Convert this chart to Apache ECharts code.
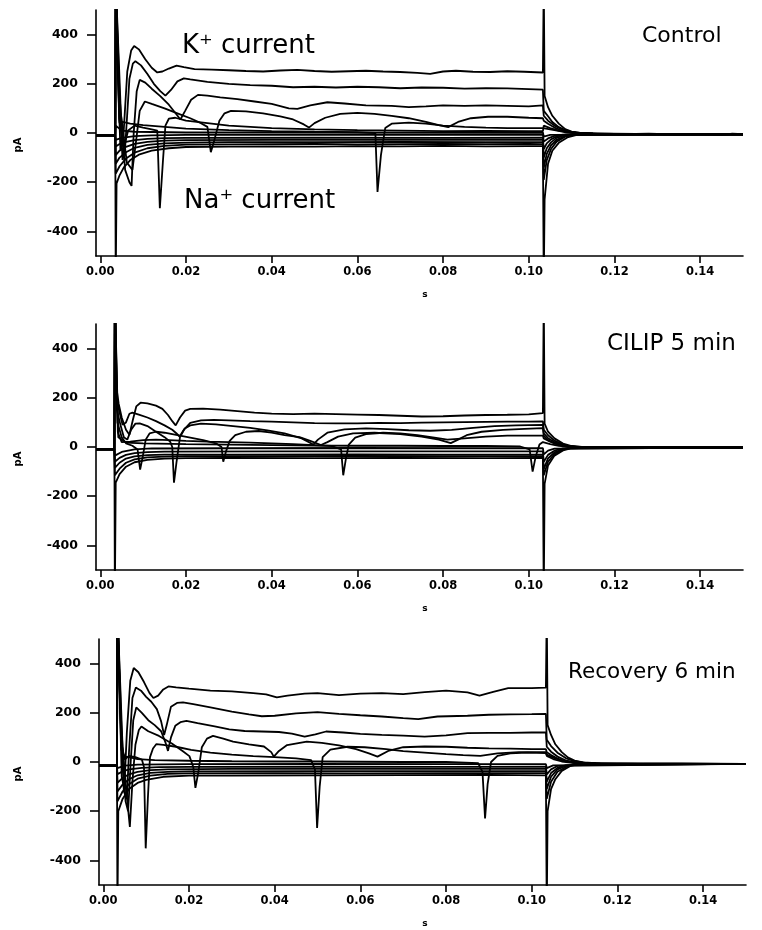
<!DOCTYPE html>
<html>
<head>
<meta charset="utf-8">
<script src="https://cdn.jsdelivr.net/npm/echarts@6/dist/echarts.min.js"></script>
<style>html,body{margin:0;padding:0;background:#fff}#chart{width:762px;height:930px}</style>
</head>
<body>
<div id="chart"></div>
<script>
// ---------------- data (time in s, current in pA) ----------------
const xTickValues = [0, 0.02, 0.04, 0.06, 0.08, 0.10, 0.12, 0.14];
const yTickValues = [-400, -200, 0, 200, 400];
const panelLabels = ['Control', 'CILIP 5 min', 'Recovery 6 min'];
const currentLabels = ['K\u207A current', 'Na\u207A current'];

const controlTraces = [
  [[-0.001,-10],[0.0035,-10],[0.0036,620],[0.0041,250],[0.0047,-70],[0.0053,-40],[0.0063,250],[0.0072,335],[0.0079,354],[0.009,340],[0.0105,300],[0.012,265],[0.0133,246],[0.0145,250],[0.016,262],[0.0178,274],[0.0195,268],[0.022,260],[0.026,258],[0.03,255],[0.034,252],[0.038,250],[0.042,254],[0.046,257],[0.05,252],[0.054,249],[0.058,251],[0.062,253],[0.066,250],[0.07,248],[0.074,244],[0.077,240],[0.08,250],[0.083,253],[0.087,249],[0.091,248],[0.095,251],[0.099,249],[0.1033,246],[0.1035,620],[0.1037,150],[0.1045,105],[0.1055,70],[0.107,38],[0.1085,16],[0.11,6],[0.112,0],[0.116,-4],[0.122,-5],[0.128,-3],[0.134,-6],[0.14,-4],[0.145,-8],[0.1475,-3],[0.15,-5]],
  [[-0.001,-10],[0.0035,-10],[0.0036,620],[0.0043,200],[0.0052,-110],[0.0058,-60],[0.0068,220],[0.0076,282],[0.0082,292],[0.0095,275],[0.011,240],[0.0125,200],[0.014,170],[0.0152,152],[0.0165,175],[0.018,210],[0.0195,222],[0.021,218],[0.025,208],[0.03,200],[0.035,195],[0.04,192],[0.045,186],[0.05,188],[0.055,185],[0.06,188],[0.065,186],[0.07,182],[0.075,185],[0.08,184],[0.085,180],[0.09,182],[0.095,181],[0.1,178],[0.1033,176],[0.1035,90],[0.1045,68],[0.1055,45],[0.107,24],[0.109,8],[0.111,1],[0.115,-3],[0.125,-4],[0.135,-5],[0.15,-5]],
  [[-0.001,-10],[0.0035,-10],[0.0036,620],[0.0045,150],[0.0058,-150],[0.0068,-200],[0.0073,-215],[0.0078,0],[0.0085,170],[0.0092,216],[0.0105,205],[0.012,180],[0.014,150],[0.016,115],[0.0178,75],[0.0187,55],[0.0198,90],[0.0212,135],[0.0228,155],[0.025,152],[0.028,145],[0.032,138],[0.036,128],[0.04,118],[0.044,100],[0.046,98],[0.049,112],[0.053,125],[0.057,120],[0.062,112],[0.068,110],[0.072,105],[0.076,108],[0.08,112],[0.085,110],[0.09,112],[0.095,110],[0.1,108],[0.1033,112],[0.1035,70],[0.1045,50],[0.106,30],[0.108,12],[0.11,3],[0.113,-2],[0.125,-4],[0.15,-5]],
  [[-0.001,-10],[0.0035,-10],[0.0036,620],[0.0048,80],[0.0062,-120],[0.0075,-150],[0.0083,-40],[0.0092,90],[0.0104,128],[0.012,118],[0.015,100],[0.018,80],[0.021,60],[0.0235,40],[0.025,25],[0.0258,-78],[0.0266,-30],[0.0278,50],[0.029,80],[0.0305,90],[0.034,88],[0.038,80],[0.042,68],[0.045,55],[0.0475,35],[0.0487,22],[0.05,40],[0.0525,62],[0.056,78],[0.06,82],[0.064,78],[0.068,70],[0.072,60],[0.076,45],[0.079,32],[0.0812,24],[0.0835,45],[0.0865,60],[0.0905,66],[0.095,66],[0.1,62],[0.1033,60],[0.1035,50],[0.1045,38],[0.106,22],[0.108,8],[0.111,0],[0.12,-4],[0.15,-5]],
  [[-0.001,-10],[0.0035,-10],[0.0036,620],[0.0044,60],[0.0055,-60],[0.0065,10],[0.008,30],[0.01,22],[0.012,15],[0.0133,10],[0.0139,-306],[0.0146,-120],[0.0152,30],[0.016,58],[0.0175,62],[0.02,50],[0.025,40],[0.03,30],[0.035,25],[0.04,20],[0.05,15],[0.06,12],[0.07,10],[0.08,8],[0.09,9],[0.1,8],[0.1033,8],[0.1035,30],[0.105,20],[0.107,10],[0.11,2],[0.115,-3],[0.15,-5]],
  [[-0.001,-10],[0.0035,-10],[0.0036,620],[0.0045,40],[0.0052,45],[0.007,38],[0.01,32],[0.015,25],[0.02,18],[0.03,12],[0.04,8],[0.05,5],[0.06,3],[0.0642,0],[0.0647,-240],[0.0655,-90],[0.0665,20],[0.068,38],[0.072,42],[0.076,38],[0.08,30],[0.085,25],[0.09,22],[0.095,20],[0.1,20],[0.1033,20],[0.1035,25],[0.106,12],[0.109,2],[0.115,-3],[0.15,-5]],
  [[-0.001,-10],[0.0035,-10],[0.0036,-620],[0.0038,-205],[0.0045,-172],[0.0055,-140],[0.007,-110],[0.009,-88],[0.012,-72],[0.016,-62],[0.02,-57],[0.03,-55],[0.04,-54],[0.05,-55],[0.06,-53],[0.07,-54],[0.08,-52],[0.09,-54],[0.1,-53],[0.1033,-53],[0.1035,-620],[0.1037,-270],[0.1045,-125],[0.1055,-72],[0.107,-40],[0.109,-18],[0.111,-9],[0.115,-5],[0.13,-6],[0.15,-5]],
  [[-0.001,-10],[0.0035,-10],[0.0036,-165],[0.0045,-135],[0.006,-104],[0.008,-80],[0.011,-62],[0.015,-52],[0.02,-47],[0.03,-46],[0.04,-45],[0.05,-44],[0.06,-46],[0.07,-45],[0.08,-44],[0.09,-45],[0.1,-44],[0.1033,-45],[0.1035,-190],[0.1042,-110],[0.1052,-65],[0.1065,-35],[0.1085,-15],[0.111,-7],[0.115,-5],[0.15,-5]],
  [[-0.001,-10],[0.0035,-10],[0.0036,-125],[0.0045,-100],[0.006,-78],[0.008,-60],[0.011,-48],[0.015,-42],[0.02,-39],[0.03,-37],[0.05,-37],[0.07,-36],[0.09,-37],[0.1033,-37],[0.1035,-140],[0.1042,-85],[0.1052,-50],[0.1065,-28],[0.1085,-12],[0.111,-6],[0.15,-5]],
  [[-0.001,-10],[0.0035,-10],[0.0036,-90],[0.0045,-72],[0.006,-56],[0.008,-44],[0.011,-36],[0.015,-31],[0.02,-29],[0.04,-28],[0.06,-28],[0.08,-27],[0.1033,-28],[0.1035,-100],[0.1042,-62],[0.1052,-38],[0.1065,-20],[0.1085,-9],[0.111,-5],[0.15,-5]],
  [[-0.001,-10],[0.0035,-10],[0.0036,-55],[0.0045,-45],[0.006,-36],[0.008,-29],[0.011,-24],[0.015,-21],[0.02,-20],[0.05,-19],[0.08,-20],[0.1033,-19],[0.1035,-65],[0.1042,-42],[0.1052,-26],[0.1065,-14],[0.1085,-7],[0.15,-5]],
  [[-0.001,-10],[0.0035,-10],[0.0036,-28],[0.005,-20],[0.008,-13],[0.012,-10],[0.02,-8],[0.05,-7],[0.08,-8],[0.1033,-7],[0.1035,-35],[0.1045,-22],[0.106,-12],[0.108,-7],[0.15,-5]],
  [[-0.001,-10],[0.0035,-10],[0.0036,30],[0.005,10],[0.008,5],[0.02,2],[0.05,2],[0.08,1],[0.1033,2],[0.1035,-15],[0.105,-8],[0.15,-5]]
];

const cilipTraces = [
  [[-0.001,-10],[0.0033,-10],[0.0034,620],[0.0037,250],[0.0043,175],[0.005,120],[0.006,70],[0.0068,50],[0.0076,110],[0.0084,165],[0.0094,180],[0.011,177],[0.013,168],[0.0145,155],[0.0158,130],[0.0168,105],[0.0176,88],[0.0186,120],[0.0198,148],[0.021,155],[0.024,156],[0.028,152],[0.032,146],[0.036,140],[0.04,136],[0.045,134],[0.05,136],[0.055,134],[0.06,132],[0.065,130],[0.07,127],[0.075,124],[0.08,125],[0.085,128],[0.09,130],[0.095,131],[0.1,133],[0.1033,138],[0.1035,620],[0.1037,95],[0.1045,62],[0.106,35],[0.108,14],[0.11,4],[0.113,-1],[0.12,-2],[0.13,-1],[0.14,-2],[0.15,-2]],
  [[-0.001,-10],[0.0033,-10],[0.0034,620],[0.0038,200],[0.0045,140],[0.0052,90],[0.006,100],[0.0068,135],[0.0075,140],[0.009,132],[0.011,120],[0.013,105],[0.015,88],[0.0168,70],[0.0178,55],[0.0185,42],[0.0195,70],[0.021,98],[0.0235,108],[0.0265,110],[0.03,108],[0.035,105],[0.04,103],[0.045,100],[0.05,97],[0.055,96],[0.06,96],[0.065,98],[0.07,97],[0.075,99],[0.08,100],[0.085,101],[0.09,102],[0.095,103],[0.1,103],[0.1033,104],[0.1035,70],[0.1045,48],[0.106,26],[0.108,10],[0.11,2],[0.113,-1],[0.15,-2]],
  [[-0.001,-10],[0.0033,-10],[0.0034,620],[0.0039,150],[0.0047,90],[0.0055,40],[0.0063,30],[0.0072,70],[0.0082,95],[0.0092,96],[0.011,85],[0.013,62],[0.015,40],[0.0163,22],[0.0168,0],[0.0172,-145],[0.0178,-60],[0.0186,40],[0.0197,75],[0.021,88],[0.0235,95],[0.027,92],[0.031,85],[0.035,78],[0.039,68],[0.043,55],[0.047,35],[0.0497,10],[0.0508,30],[0.053,58],[0.057,72],[0.062,76],[0.067,73],[0.072,68],[0.077,66],[0.082,70],[0.087,78],[0.092,85],[0.097,88],[0.1,89],[0.1033,90],[0.1035,55],[0.1045,36],[0.106,20],[0.108,8],[0.111,0],[0.115,-2],[0.15,-2]],
  [[-0.001,-10],[0.0033,-10],[0.0034,620],[0.004,100],[0.005,40],[0.006,15],[0.0075,5],[0.0087,-10],[0.0093,-92],[0.0099,-40],[0.0106,30],[0.0115,55],[0.013,62],[0.015,58],[0.018,48],[0.021,38],[0.024,28],[0.027,15],[0.0283,0],[0.0287,-60],[0.0293,-20],[0.0302,25],[0.0315,48],[0.034,62],[0.037,65],[0.04,58],[0.043,48],[0.0465,40],[0.049,25],[0.0515,8],[0.053,20],[0.0555,42],[0.059,55],[0.064,58],[0.07,52],[0.075,42],[0.079,30],[0.0818,16],[0.0835,30],[0.0855,48],[0.089,62],[0.094,70],[0.099,74],[0.1033,77],[0.1035,45],[0.1045,28],[0.106,14],[0.108,5],[0.11,0],[0.115,-2],[0.15,-2]],
  [[-0.001,-10],[0.0033,-10],[0.0034,620],[0.0041,60],[0.005,20],[0.007,22],[0.01,28],[0.013,30],[0.016,28],[0.02,25],[0.025,22],[0.03,20],[0.035,18],[0.04,15],[0.045,12],[0.05,8],[0.054,4],[0.0562,-10],[0.0567,-115],[0.0573,-50],[0.058,10],[0.0595,38],[0.062,52],[0.066,58],[0.07,55],[0.074,48],[0.078,38],[0.081,30],[0.085,35],[0.09,42],[0.095,46],[0.1,46],[0.1033,46],[0.1035,35],[0.105,22],[0.107,10],[0.109,3],[0.112,-1],[0.15,-2]],
  [[-0.001,-10],[0.0033,-10],[0.0034,620],[0.0042,40],[0.006,18],[0.01,15],[0.02,12],[0.03,10],[0.04,8],[0.05,6],[0.06,5],[0.07,5],[0.08,4],[0.09,4],[0.098,2],[0.1002,-10],[0.1009,-100],[0.1016,-40],[0.1025,10],[0.1033,20],[0.1035,22],[0.105,12],[0.107,5],[0.11,0],[0.15,-2]],
  [[-0.001,-10],[0.0033,-10],[0.0034,-620],[0.0036,-145],[0.0045,-110],[0.006,-80],[0.008,-62],[0.011,-52],[0.015,-47],[0.02,-45],[0.03,-44],[0.05,-45],[0.07,-44],[0.09,-45],[0.1033,-44],[0.1035,-620],[0.1037,-150],[0.1045,-75],[0.106,-35],[0.108,-14],[0.11,-5],[0.115,-2],[0.15,-2]],
  [[-0.001,-10],[0.0033,-10],[0.0034,-115],[0.0045,-88],[0.006,-64],[0.008,-50],[0.011,-42],[0.015,-39],[0.02,-37],[0.04,-37],[0.06,-36],[0.08,-37],[0.1033,-37],[0.1035,-115],[0.1045,-60],[0.106,-28],[0.108,-11],[0.11,-4],[0.15,-2]],
  [[-0.001,-10],[0.0033,-10],[0.0034,-85],[0.0045,-64],[0.006,-47],[0.008,-38],[0.011,-33],[0.015,-31],[0.03,-31],[0.06,-30],[0.08,-31],[0.1033,-31],[0.1035,-90],[0.1045,-46],[0.106,-22],[0.108,-9],[0.11,-3],[0.15,-2]],
  [[-0.001,-10],[0.0033,-10],[0.0034,-60],[0.0045,-44],[0.006,-32],[0.008,-25],[0.011,-21],[0.015,-19],[0.04,-18],[0.07,-18],[0.1033,-18],[0.1035,-60],[0.1045,-32],[0.106,-15],[0.108,-6],[0.15,-2]],
  [[-0.001,-10],[0.0033,-10],[0.0034,-35],[0.005,-20],[0.008,-10],[0.012,-6],[0.03,-5],[0.06,-4],[0.09,-5],[0.1033,-5],[0.1035,-30],[0.1045,-15],[0.106,-7],[0.15,-2]]
];

const recoveryTraces = [
  [[-0.001,-15],[0.0032,-15],[0.0033,620],[0.0038,300],[0.0043,-60],[0.0049,-110],[0.0055,120],[0.0063,330],[0.0071,382],[0.0082,365],[0.0095,325],[0.0108,280],[0.0117,260],[0.0128,270],[0.014,295],[0.0152,307],[0.017,303],[0.02,298],[0.025,290],[0.03,287],[0.035,280],[0.038,275],[0.0405,263],[0.043,270],[0.047,278],[0.05,280],[0.055,272],[0.06,278],[0.065,280],[0.07,276],[0.075,284],[0.08,290],[0.085,283],[0.0878,270],[0.091,285],[0.0945,300],[0.1,300],[0.1033,302],[0.1035,620],[0.1037,150],[0.1045,110],[0.1055,72],[0.107,40],[0.1085,18],[0.11,6],[0.112,-2],[0.116,-6],[0.125,-8],[0.135,-7],[0.145,-8],[0.15,-8]],
  [[-0.001,-15],[0.0032,-15],[0.0033,620],[0.004,200],[0.0048,-120],[0.0055,-150],[0.006,40],[0.0068,260],[0.0076,303],[0.0088,290],[0.01,265],[0.0112,245],[0.0125,215],[0.0135,165],[0.0142,110],[0.0148,150],[0.0158,225],[0.0172,240],[0.0186,242],[0.021,235],[0.025,222],[0.03,205],[0.034,194],[0.037,186],[0.04,188],[0.045,198],[0.05,203],[0.055,196],[0.06,190],[0.065,185],[0.07,178],[0.0735,174],[0.078,185],[0.085,188],[0.09,192],[0.095,194],[0.1,195],[0.1033,196],[0.1035,90],[0.1045,65],[0.106,38],[0.108,15],[0.11,3],[0.113,-5],[0.12,-8],[0.15,-8]],
  [[-0.001,-15],[0.0032,-15],[0.0033,620],[0.0042,150],[0.0052,-160],[0.0058,-200],[0.0064,0],[0.007,170],[0.0077,222],[0.009,200],[0.0105,170],[0.012,150],[0.0135,125],[0.0145,80],[0.0151,45],[0.0158,100],[0.0168,147],[0.018,162],[0.0194,167],[0.022,158],[0.026,145],[0.0294,133],[0.033,126],[0.037,124],[0.041,122],[0.044,115],[0.047,103],[0.0495,112],[0.052,124],[0.056,120],[0.06,114],[0.065,110],[0.07,107],[0.075,103],[0.08,108],[0.085,117],[0.09,118],[0.095,118],[0.1,120],[0.1033,120],[0.1035,62],[0.1045,42],[0.106,22],[0.108,6],[0.111,-3],[0.115,-6],[0.15,-8]],
  [[-0.001,-15],[0.0032,-15],[0.0033,620],[0.0045,60],[0.0055,-140],[0.0062,-264],[0.0068,-80],[0.0075,70],[0.0083,130],[0.0089,144],[0.0105,125],[0.013,106],[0.016,75],[0.0185,45],[0.0201,24],[0.021,-20],[0.0215,-105],[0.0222,-40],[0.023,60],[0.0242,95],[0.0256,106],[0.028,95],[0.0303,83],[0.034,72],[0.0375,63],[0.0392,40],[0.0398,22],[0.041,45],[0.0429,69],[0.0475,83],[0.051,78],[0.055,68],[0.059,52],[0.062,35],[0.064,22],[0.0665,45],[0.07,60],[0.075,63],[0.08,62],[0.085,58],[0.09,55],[0.095,54],[0.1,52],[0.1033,52],[0.1035,40],[0.1045,28],[0.106,14],[0.108,3],[0.11,-4],[0.115,-7],[0.15,-8]],
  [[-0.001,-15],[0.0032,-15],[0.0033,620],[0.0042,80],[0.005,10],[0.006,25],[0.0075,20],[0.009,10],[0.0095,-20],[0.0099,-351],[0.0104,-150],[0.0109,20],[0.0116,55],[0.0124,73],[0.014,70],[0.017,62],[0.0205,49],[0.025,38],[0.03,30],[0.035,24],[0.04,20],[0.045,15],[0.0485,8],[0.0494,-30],[0.0499,-268],[0.0505,-100],[0.0512,20],[0.053,50],[0.057,62],[0.061,60],[0.066,52],[0.07,44],[0.075,38],[0.08,32],[0.084,28],[0.088,25],[0.092,35],[0.097,40],[0.1,40],[0.1033,40],[0.1035,30],[0.105,18],[0.107,6],[0.11,-3],[0.115,-7],[0.15,-8]],
  [[-0.001,-15],[0.0032,-15],[0.0033,620],[0.0042,50],[0.005,22],[0.006,20],[0.008,12],[0.012,8],[0.02,5],[0.03,3],[0.04,2],[0.05,2],[0.06,1],[0.07,0],[0.08,0],[0.0875,-5],[0.0885,-40],[0.0891,-229],[0.0897,-90],[0.0905,0],[0.092,25],[0.095,35],[0.099,38],[0.1033,36],[0.1035,25],[0.105,12],[0.107,2],[0.11,-5],[0.15,-8]],
  [[-0.001,-15],[0.0032,-15],[0.0033,-620],[0.0035,-200],[0.0045,-150],[0.006,-110],[0.008,-85],[0.01,-73],[0.014,-60],[0.02,-55],[0.03,-55],[0.05,-54],[0.07,-53],[0.09,-52],[0.1033,-54],[0.1035,-620],[0.1037,-200],[0.1045,-110],[0.1055,-70],[0.107,-36],[0.109,-16],[0.111,-10],[0.115,-8],[0.15,-8]],
  [[-0.001,-15],[0.0032,-15],[0.0033,-160],[0.0045,-120],[0.006,-90],[0.008,-68],[0.011,-55],[0.015,-48],[0.02,-46],[0.04,-45],[0.06,-46],[0.08,-45],[0.1033,-45],[0.1035,-150],[0.1045,-80],[0.106,-40],[0.108,-20],[0.11,-11],[0.15,-8]],
  [[-0.001,-15],[0.0032,-15],[0.0033,-120],[0.0045,-92],[0.006,-70],[0.008,-54],[0.011,-44],[0.015,-40],[0.02,-38],[0.05,-37],[0.08,-37],[0.1033,-37],[0.1035,-110],[0.1045,-60],[0.106,-30],[0.108,-16],[0.11,-10],[0.15,-8]],
  [[-0.001,-15],[0.0032,-15],[0.0033,-85],[0.0045,-65],[0.006,-50],[0.008,-40],[0.011,-33],[0.015,-30],[0.03,-28],[0.06,-28],[0.09,-28],[0.1033,-28],[0.1035,-80],[0.1045,-45],[0.106,-24],[0.108,-13],[0.15,-8]],
  [[-0.001,-15],[0.0032,-15],[0.0033,-50],[0.0045,-38],[0.006,-30],[0.009,-24],[0.013,-21],[0.02,-20],[0.05,-19],[0.08,-20],[0.1033,-19],[0.1035,-50],[0.1045,-30],[0.106,-16],[0.15,-8]],
  [[-0.001,-15],[0.0032,-15],[0.0033,-25],[0.005,-15],[0.008,-11],[0.02,-9],[0.05,-8],[0.08,-9],[0.1033,-9],[0.1035,-25],[0.105,-14],[0.15,-8]]
];

// ---------------- layout ----------------
const panels = [controlTraces, cilipTraces, recoveryTraces];
const grids = [
  {left: 96, top: 10, width: 647, height: 246},
  {left: 96, top: 324, width: 647, height: 246},
  {left: 99, top: 639, width: 647, height: 246}
];
const FONT = '"DejaVu Sans", Verdana, sans-serif';

const option = {
  animation: false,
  backgroundColor: '#fff',
  grid: grids,
  xAxis: grids.map((g, i) => ({
    type: 'value', gridIndex: i, min: -0.001, max: 0.150,
    axisLine: {show: true, onZero: false, lineStyle: {color: '#000', width: 1.6}},
    axisTick: {show: true, inside: false, length: 7, customValues: xTickValues, lineStyle: {color: '#000', width: 1.6}},
    axisLabel: {show: true, customValues: xTickValues, margin: 10, color: '#000',
      fontFamily: FONT, fontSize: 11.5, fontWeight: 'bold', formatter: v => v.toFixed(2)},
    splitLine: {show: false}
  })),
  yAxis: grids.map((g, i) => ({
    type: 'value', gridIndex: i, min: -500, max: 500,
    axisLine: {show: true, onZero: false, lineStyle: {color: '#000', width: 1.6}},
    axisTick: {show: true, inside: false, length: 9, customValues: yTickValues, lineStyle: {color: '#000', width: 1.6}},
    axisLabel: {show: true, customValues: yTickValues, margin: 18, color: '#000',
      fontFamily: FONT, fontSize: 12.5, fontWeight: 'bold', formatter: v => String(v)},
    splitLine: {show: false}
  })),
  series: [],
  graphic: []
};

panels.forEach((traces, p) => {
  traces.forEach(tr => {
    option.series.push({
      type: 'line', xAxisIndex: p, yAxisIndex: p, data: tr,
      symbol: 'none', showSymbol: false, clip: true, silent: true,
      lineStyle: {color: '#000', width: 1.8}
    });
  });
});

const zeroY = [133, 447, 762];
const bottomY = [256, 570, 885];
const titlePos = [[642, 36, 22], [607, 344, 23], [568, 672, 21.5]];
panels.forEach((_, p) => {
  option.graphic.push({
    type: 'text', x: 18, y: zeroY[p] + 12, rotation: Math.PI / 2,
    style: {text: 'pA', fill: '#000', font: 'bold 10px ' + FONT, align: 'center', verticalAlign: 'middle'}
  });
  option.graphic.push({
    type: 'text', x: 425, y: bottomY[p] + 39,
    style: {text: 's', fill: '#000', font: 'bold 9px ' + FONT, align: 'center', verticalAlign: 'middle'}
  });
  option.graphic.push({
    type: 'text', x: titlePos[p][0], y: titlePos[p][1],
    style: {text: panelLabels[p], fill: '#000', font: titlePos[p][2] + 'px ' + FONT, align: 'left', verticalAlign: 'middle'}
  });
});
option.graphic.push({
  type: 'text', x: 182, y: 46,
  style: {text: currentLabels[0], fill: '#000', font: '26px ' + FONT, align: 'left', verticalAlign: 'middle'}
});
option.graphic.push({
  type: 'text', x: 184, y: 201,
  style: {text: currentLabels[1], fill: '#000', font: '26px ' + FONT, align: 'left', verticalAlign: 'middle'}
});

const chart = echarts.init(document.getElementById('chart'), null, {renderer: 'canvas'});
chart.setOption(option);
</script>
</body>
</html>
